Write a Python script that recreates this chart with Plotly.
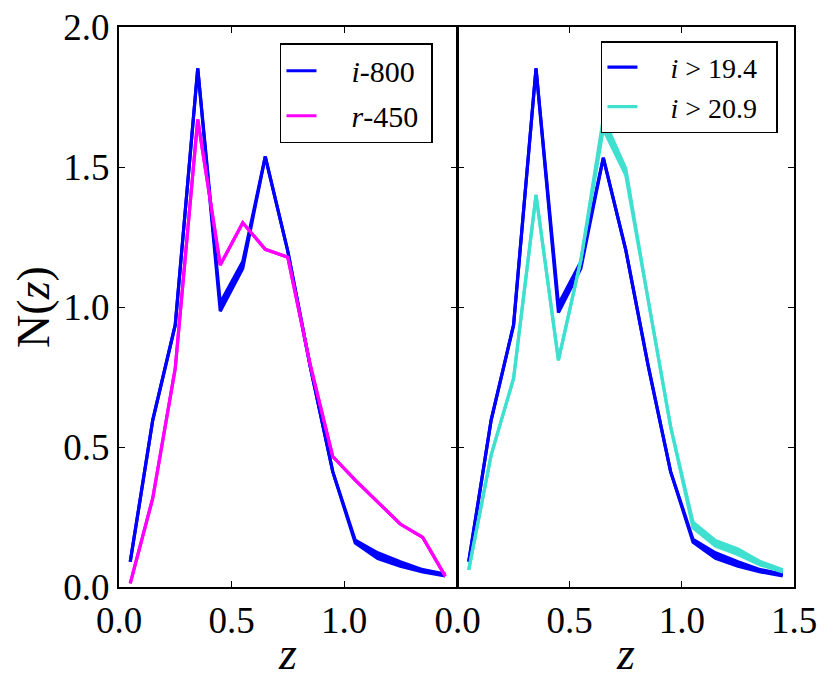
import plotly.graph_objects as go

# redshift bin centres
z_bins = [0.05, 0.15, 0.25, 0.35, 0.45, 0.55, 0.65, 0.75, 0.85, 0.95, 1.05, 1.15, 1.25, 1.35, 1.45]

# left panel
nz_i800 = [0.09, 0.596, 0.936, 1.852, 1.00, 1.15, 1.537, 1.20, 0.787, 0.412, 0.162, 0.112, 0.082, 0.058, 0.043]
err_i800 = [0.0, 0.0, 0.0, 0.0, 0.015, 0.012, 0.0, 0.0, 0.0, 0.0, 0.005, 0.01, 0.008, 0.004, 0.003]
nz_r450 = [0.013, 0.317, 0.781, 1.67, 1.15, 1.301, 1.206, 1.178, 0.793, 0.466, 0.382, 0.305, 0.225, 0.177, 0.039]
err_r450 = [0.0] * 15

# right panel
nz_i194 = [0.09, 0.596, 0.936, 1.852, 0.995, 1.15, 1.533, 1.204, 0.79, 0.412, 0.165, 0.112, 0.082, 0.058, 0.043]
err_i194 = [0.0, 0.0, 0.0, 0.0, 0.015, 0.012, 0.0, 0.0, 0.0, 0.0, 0.005, 0.01, 0.008, 0.004, 0.003]
nz_i209 = [0.061, 0.471, 0.745, 1.40, 0.81, 1.168, 1.655, 1.483, 1.025, 0.573, 0.221, 0.156, 0.126, 0.085, 0.058]
err_i209 = [0.0, 0.0, 0.0, 0.0, 0.0, 0.0, 0.02, 0.012, 0.0, 0.0, 0.01, 0.01, 0.01, 0.006, 0.004]

SP = "&nbsp;"
series = [
    (SP * 4 + "<i>i</i>-800" + SP, nz_i800, err_i800, "#0000ff", "x", "y", "legend"),
    (SP * 4 + "<i>r</i>-450" + SP, nz_r450, err_r450, "#ff00ff", "x", "y", "legend"),
    (SP * 4 + "<i>i</i> > 19.4" + SP * 2, nz_i194, err_i194, "#0000ff", "x2", "y2", "legend2"),
    (SP * 4 + "<i>i</i> > 20.9" + SP * 2, nz_i209, err_i209, "#40e0d0", "x2", "y2", "legend2"),
]

FONT = "Liberation Serif"

fig = go.Figure()
for name, nz, err, col, xa, ya, leg in series:
    lo = [v - e for v, e in zip(nz, err)]
    hi = [v + e for v, e in zip(nz, err)]
    fig.add_trace(go.Scatter(x=z_bins, y=lo, mode="lines", name=name, xaxis=xa, yaxis=ya,
                             legend=leg, legendgroup=name,
                             line=dict(color=col, width=3.2)))
    fig.add_trace(go.Scatter(x=z_bins, y=hi, mode="lines", name=name, xaxis=xa, yaxis=ya,
                             legend=leg, legendgroup=name, showlegend=False,
                             fill="tonexty", fillcolor=col,
                             line=dict(color=col, width=3.2)))

axis_common = dict(range=[0, 1.5], showline=True, linecolor="black", linewidth=2,
                   mirror="allticks", ticks="inside", ticklen=6, tickwidth=1.2,
                   tickcolor="black", showgrid=False, zeroline=False,
                   ticklabeloverflow="allow",
                   tickfont=dict(family=FONT, size=37, color="black"))
title_font = dict(family=FONT, size=46, color="black")
xt = [0, 0.5, 1.0, 1.5]
# page body has an 8px margin, so the margins below are shifted by that much
fig.update_layout(
    width=831, height=686,
    paper_bgcolor="white", plot_bgcolor="rgba(0,0,0,0)",
    margin=dict(l=111, r=45, t=19, b=107),
    xaxis=dict(axis_common, domain=[0, 0.5], tickvals=xt, ticktext=["0.0", "0.5", "1.0", ""]),
    xaxis2=dict(axis_common, domain=[0.5 + 1 / 675, 1], tickvals=xt,
                ticktext=["0.0", "0.5", "1.0", "1.5"], anchor="y2"),
    yaxis=dict(axis_common, range=[0, 2.0], tickvals=[0, 0.5, 1.0, 1.5, 2.0],
               ticktext=["0.0", "0.5", "1.0", "1.5", "2.0"],
               title=dict(text="N(<i>z</i>)", font=title_font, standoff=4),
               automargin=False),
    yaxis2=dict(axis_common, range=[0, 2.0], anchor="x2", showticklabels=False,
                tickvals=[0, 0.5, 1.0, 1.5, 2.0]),
    legend=dict(x=0.2385, y=0.971, xanchor="left", yanchor="top",
                bordercolor="black", borderwidth=1.5, bgcolor="white",
                font=dict(family=FONT, size=30, color="black"),
                traceorder="grouped", tracegroupgap=3),
    legend2=dict(x=0.714, y=0.975, xanchor="left", yanchor="top",
                 bordercolor="black", borderwidth=1.5, bgcolor="white",
                 font=dict(family=FONT, size=28, color="black"),
                 traceorder="grouped", tracegroupgap=0),
    showlegend=True,
)

# x-axis titles under each panel
for xc in (0.25, 0.75):
    fig.add_annotation(text="<i>z</i>", x=xc, y=-0.118, xref="paper", yref="paper",
                       xanchor="center", yanchor="middle", showarrow=False, font=title_font)

fig.write_html("out.html")
